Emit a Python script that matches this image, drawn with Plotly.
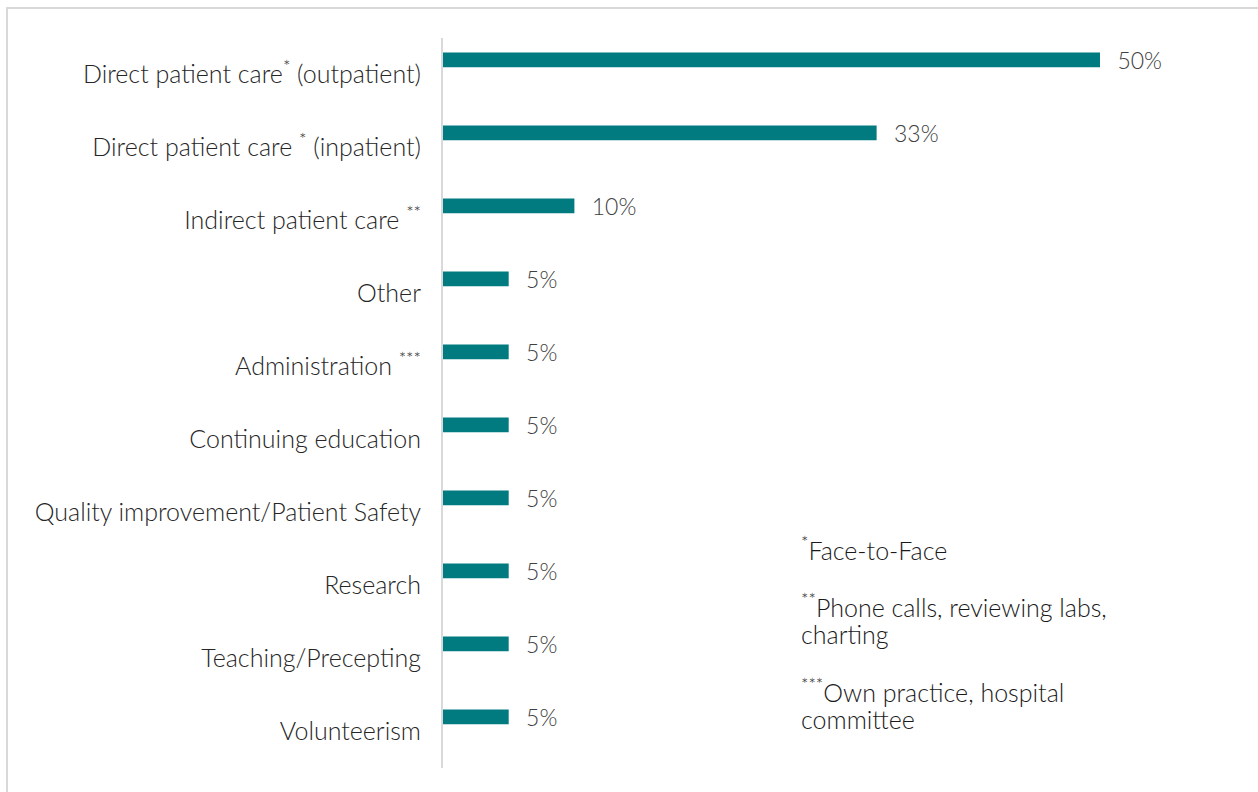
import plotly.graph_objects as go

# Share of working time by activity
categories = [
    "Direct patient care<sup>*</sup> (outpatient)",
    "Direct patient care <sup>*</sup> (inpatient)",
    "Indirect patient care <sup>**</sup>",
    "Other",
    "Administration <sup>***</sup>",
    "Continuing education",
    "Quality improvement/Patient Safety",
    "Research",
    "Teaching/Precepting",
    "Volunteerism",
]
values = [50, 33, 10, 5, 5, 5, 5, 5, 5, 5]
value_labels = [f"\u2002\u2009{v}%" for v in values]

footnote_lines = [
    "<sup>*</sup>Face-to-Face",
    "",
    "<sup>**</sup>Phone calls, reviewing labs,",
    "charting",
    "",
    "<sup>***</sup>Own practice, hospital",
    "committee",
]

FONT = "Lato Light, Lato"
TEAL = "#017b80"
GRID = "#d9d9d9"

fig = go.Figure(
    go.Bar(
        x=values,
        y=categories,
        orientation="h",
        marker=dict(color=TEAL, line=dict(width=0)),
        width=0.2,
        offset=-0.3,
        text=value_labels,
        textposition="outside",
        constraintext="none",
        textfont=dict(family=FONT, size=23, color="#404040", weight=300),
        cliponaxis=False,
        hoverinfo="skip",
    )
)

L, R, T, B = 443, 58, 38, 24
W, H = 1258, 792
plot_w = W - L - R
plot_h = H - T - B
px_per_unit = 657 / 50

# footnote block: one annotation per line, fixed line pitch
note_x = (799 - L) / plot_w
note_top = 548
line_pitch = 28.5
annotations = []
for i, line in enumerate(footnote_lines):
    if not line:
        continue
    y_px = note_top + i * line_pitch
    annotations.append(
        dict(
            xref="paper",
            yref="paper",
            x=note_x,
            y=1 - (y_px - T) / plot_h,
            xanchor="left",
            yanchor="middle",
            align="left",
            showarrow=False,
            text=line,
            font=dict(family=FONT, size=25, color="#1a1a1a", weight=300),
        )
    )

fig.update_layout(
    width=W,
    height=H,
    margin=dict(l=L, r=R, t=T, b=B, pad=0),
    paper_bgcolor="white",
    plot_bgcolor="white",
    showlegend=False,
    font=dict(family=FONT, weight=300, color="#262626"),
    xaxis=dict(
        range=[0, plot_w / px_per_unit],
        visible=False,
        showgrid=False,
        zeroline=False,
    ),
    yaxis=dict(
        autorange="reversed",
        showline=True,
        linecolor=GRID,
        linewidth=2,
        ticks="",
        ticklabelstandoff=15,
        tickfont=dict(family=FONT, size=25, color="#262626", weight=300),
        showgrid=False,
    ),
    shapes=[
        dict(
            type="rect",
            xref="paper",
            yref="paper",
            x0=(7 - L) / plot_w,
            x1=1.3,
            y0=-0.2,
            y1=1 + (T - 8) / plot_h,
            line=dict(color=GRID, width=2),
            fillcolor="rgba(0,0,0,0)",
            layer="below",
        )
    ],
    annotations=annotations,
)

fig.write_html("out.html")
